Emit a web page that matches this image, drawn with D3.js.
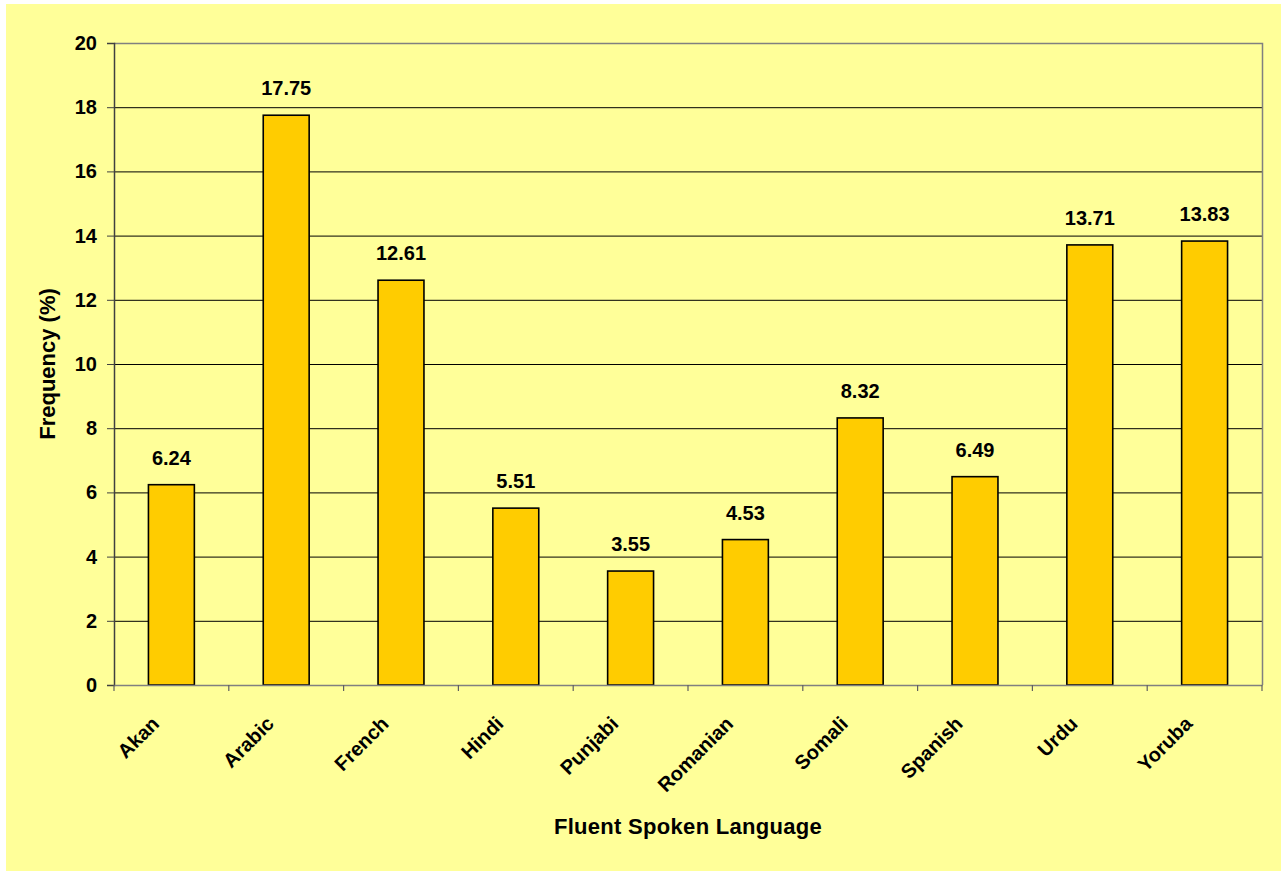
<!DOCTYPE html>
<html><head><meta charset="utf-8">
<script src="https://cdn.jsdelivr.net/npm/d3@7"></script>
<style>
html,body{margin:0;padding:0;background:#fff;}
svg{display:block;font-family:Arial,"Liberation Sans",sans-serif;font-weight:bold;}
</style></head>
<body>
<script>
const categories = ["Akan","Arabic","French","Hindi","Punjabi","Romanian","Somali","Spanish","Urdu","Yoruba"];
const values = [6.24,17.75,12.61,5.51,3.55,4.53,8.32,6.49,13.71,13.83];
const yTicks = [0,2,4,6,8,10,12,14,16,18,20];

const W = 1281, H = 871;
const m = {left:114, top:43, right:1262, bottom:685};
const svg = d3.select("body").append("svg").attr("width",W).attr("height",H);
svg.append("rect").attr("x",6).attr("y",4).attr("width",W).attr("height",H).attr("fill","#FFFF99");

const x = d3.scaleBand().domain(categories).range([m.left,m.right]).paddingInner(0.6).paddingOuter(0.3);
const xb = d3.scaleBand().domain(categories).range([m.left,m.right]);
const y = d3.scaleLinear().domain([0,20]).range([m.bottom,m.top]);

// gridlines
svg.append("g").selectAll("line").data(yTicks.filter(d=>d>0&&d<20)).join("line")
  .attr("x1",m.left).attr("x2",m.right).attr("y1",d=>y(d)+0.5).attr("y2",d=>y(d)+0.5)
  .attr("stroke","#000").attr("stroke-width",1);
// plot border top/right
svg.append("path").attr("d",`M${m.left},${m.top+0.5}H${m.right+0.5}V${m.bottom}`)
  .attr("fill","none").attr("stroke","#808080").attr("stroke-width",1.5);

// bars
svg.append("g").selectAll("rect").data(categories).join("rect")
  .attr("x",(d)=>x(d)).attr("width",x.bandwidth())
  .attr("y",(d,i)=>y(values[i])).attr("height",(d,i)=>y(0)-y(values[i]))
  .attr("fill","#FFCC00").attr("stroke","#000").attr("stroke-width",1.6);

// value labels
svg.append("g").selectAll("text").data(categories).join("text")
  .attr("x",d=>x(d)+x.bandwidth()/2).attr("y",(d,i)=>y(values[i])-20)
  .attr("text-anchor","middle").attr("font-size",20).attr("fill","#000")
  .text((d,i)=>values[i].toFixed(2));

// y axis
const yAxis = d3.axisLeft(y).tickValues(yTicks).tickSize(7).tickPadding(10);
const gy = svg.append("g").attr("transform",`translate(${m.left},0)`).call(yAxis);
gy.select(".domain").attr("stroke","#404040").attr("stroke-width",1.5);
gy.selectAll(".tick line").attr("stroke","#404040");
gy.selectAll(".tick text").attr("font-size",20).attr("font-family","Arial, Liberation Sans, sans-serif").attr("font-weight","bold").attr("fill","#000");

// x axis
const xAxis = d3.axisBottom(xb).tickSize(0).tickFormat("");
const gx = svg.append("g").attr("transform",`translate(0,${m.bottom})`).call(xAxis);
gx.select(".domain").attr("stroke","#808080").attr("stroke-width",1.5);
// tick marks between categories
const bounds = categories.map(d=>xb(d)).concat([m.right]);
svg.append("g").selectAll("line").data(bounds).join("line")
  .attr("x1",d=>d).attr("x2",d=>d).attr("y1",m.bottom).attr("y2",m.bottom+6)
  .attr("stroke","#606060").attr("stroke-width",1.2);

// x labels rotated
svg.append("g").selectAll("text").data(categories).join("text")
  .attr("transform",d=>`translate(${xb(d)+xb.bandwidth()/2-11},${m.bottom+40}) rotate(-45)`)
  .attr("text-anchor","end").attr("font-size",20).attr("fill","#000").text(d=>d);

// titles
svg.append("text").attr("x",(m.left+m.right)/2).attr("y",834).attr("text-anchor","middle")
  .attr("font-size",22).attr("letter-spacing",0.3).attr("fill","#000").text("Fluent Spoken Language");
svg.append("text").attr("transform",`translate(55,${(m.top+m.bottom)/2}) rotate(-90)`)
  .attr("text-anchor","middle").attr("font-size",22).attr("fill","#000").text("Frequency (%)");
</script>
</body></html>
